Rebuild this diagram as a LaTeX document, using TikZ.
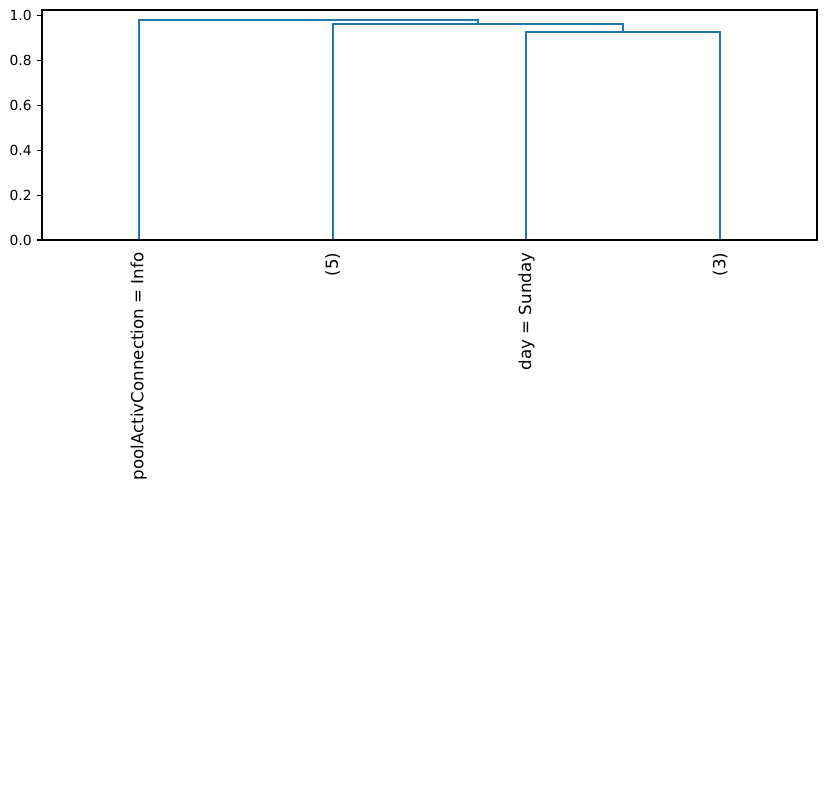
\documentclass[tikz,border=0pt]{standalone}
\usepackage{fontspec}
\setmainfont{DejaVu Sans}
\usepackage{xcolor}
\definecolor{tabblue}{HTML}{1F77B4}
\tikzset{
  dlink/.style={draw=tabblue, line width=1.5pt},
  leaflabel/.style={rotate=90, anchor=east, inner sep=0pt, font=\fontsize{12}{14}\selectfont},
  ticklabel/.style={anchor=east, inner sep=3.5pt, font=\fontsize{10}{12}\selectfont}
}

\begin{document}
\begin{tikzpicture}[x=0.72pt, y=0.72pt]
    \useasboundingbox (-42,-569) rectangle (784,240);
    % leaves and merge points
    \coordinate (leafA) at (96.9,0);
    \coordinate (leafB) at (290.6,0);
    \coordinate (leafC) at (484.4,0);
    \coordinate (leafD) at (678.1,0);
    \coordinate (mCD) at (581.25,{0.927*224.3});
    \coordinate (mBCD) at (435.9,{0.963*224.3});
    \coordinate (mTop) at (266.4,{0.981*224.3});
    \draw[dlink] (leafC) |- (mCD) -| (leafD);
    \draw[dlink] (leafB) |- (mBCD) -| (mCD);
    \draw[dlink] (leafA) |- (mTop) -| (mBCD);
    % axes
    \draw[line width=0.8pt] (0,0) rectangle (775,230);
    \foreach \v/\lab [count=\i] in {0/0.0, 0.2/0.2, 0.4/0.4, 0.6/0.6, 0.8/0.8, 1/1.0}
        \draw[line width=0.8pt] (0,{\v*224.3}) -- ++(-3.5pt,0) node[ticklabel] (ytick\i) {\lab};
    \node[leaflabel] (labA) at ([yshift=-9pt]leafA) {poolActivConnection = Info};
    \node[leaflabel] (labB) at ([yshift=-9pt]leafB) {(5)};
    \node[leaflabel] (labC) at ([yshift=-9pt]leafC) {day = Sunday};
    \node[leaflabel] (labD) at ([yshift=-9pt]leafD) {(3)};
\end{tikzpicture}
\end{document}
